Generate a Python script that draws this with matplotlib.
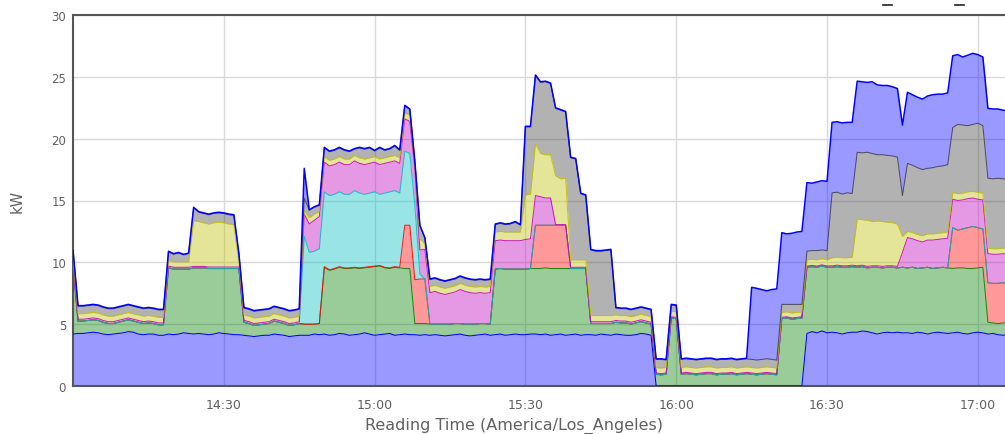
import matplotlib
matplotlib.use("Agg")
import matplotlib.pyplot as plt
import numpy as np
from matplotlib.lines import Line2D

# one reading per minute, minutes after 14:00
minutes = np.arange(187)

tick_minutes = [30, 60, 90, 120, 150, 180]
tick_labels = ["14:30", "15:00", "15:30", "16:00", "16:30", "17:00"]
y_ticks = [0, 5, 10, 15, 20, 25, 30]

# kW per circuit (stack order bottom -> top)
base_load = [
    4.2,
    4.25, 4.25, 4.3, 4.35, 4.3, 4.2, 4.15, 4.2, 4.25, 4.3, 4.4, 4.35, 4.2, 4.15, 4.2, 4.2, 4.1, 4.1,
    4.2, 4.15, 4.2, 4.3, 4.25,
    4.2, 4.25, 4.2, 4.15, 4.2, 4.3, 4.25, 4.2, 4.15,
    4.15,
    4.1, 4.05, 4.0, 4.05, 4.1, 4.1, 4.2, 4.15, 4.1, 4.0, 4.05, 4.1,
    4.1, 4.1, 4.2, 4.15,
    4.2, 4.1, 4.15, 4.25, 4.2, 4.1, 4.15, 4.2, 4.3, 4.2, 4.1, 4.15, 4.2, 4.25, 4.1, 4.15,
    4.2, 4.15,
    4.15, 4.1, 4.15,
    4.1, 4.15, 4.1, 4.05, 4.1, 4.15, 4.2, 4.1, 4.05, 4.1, 4.15, 4.2, 4.1,
    4.15, 4.2, 4.1, 4.15, 4.2, 4.15,
    4.15, 4.2,
    4.2, 4.15, 4.2, 4.1,
    4.15, 4.2, 4.1,
    4.15, 4.2,
    4.1, 4.15,
    4.15, 4.1, 4.2, 4.15, 4.1,
    4.2, 4.15, 4.1, 4.1, 4.15, 4.25, 4.2, 4.1,
    0, 0, 0, 0, 0, 0, 0, 0, 0, 0,
    0, 0, 0, 0, 0, 0, 0, 0, 0, 0,
    0, 0, 0, 0, 0, 0, 0, 0, 0, 0,
    4.25, 4.4, 4.3, 4.45, 4.3,
    4.35, 4.3, 4.2, 4.3, 4.35,
    4.35, 4.45, 4.4, 4.3, 4.2, 4.3, 4.35, 4.3, 4.35,
    4.3,
    4.3, 4.25, 4.35, 4.3, 4.2, 4.3, 4.35, 4.3, 4.25,
    4.3, 4.35, 4.25, 4.2, 4.3, 4.35, 4.3,
    4.2, 4.25, 4.15, 4.1, 4.2,
]

green = [
    5.5,
    1.0, 1.0, 1.0, 1.0, 1.0, 0.95, 0.9, 0.85, 0.9, 0.95, 0.95, 0.9, 0.95, 0.9, 0.9, 0.85, 0.85, 0.85,
    5.35, 5.3, 5.25, 5.15, 5.2,
    5.35, 5.3, 5.35, 5.35, 5.3, 5.2, 5.25, 5.3, 5.35,
    5.35,
    1.05, 1.0, 0.9, 0.9, 0.9, 0.95, 1.05, 1.0, 0.95, 0.9, 0.9, 0.95,
    0.9, 0.9, 0.8, 0.9,
    5.4, 5.25, 5.3, 5.35, 5.3, 5.4, 5.4, 5.3, 5.25, 5.4, 5.55, 5.55, 5.35, 5.25, 5.5, 5.4,
    5.3, 5.35,
    0.9, 0.95, 0.9,
    0.9, 0.85, 0.9, 0.95, 0.9, 0.9, 0.85, 0.9, 0.95, 0.9, 0.9, 0.85, 0.9,
    5.3, 5.3, 5.35, 5.3, 5.25, 5.3,
    5.3, 5.3,
    5.3, 5.35, 5.35, 5.4,
    5.35, 5.3, 5.4,
    5.35, 5.3,
    5.4, 5.35,
    0.9, 0.95, 0.85, 0.9, 0.95,
    0.95, 0.95, 1.0, 0.9, 0.95, 0.95, 0.9, 0.9,
    0.95, 0.9, 0.95,
    5.5, 5.45,
    0.95, 1.0, 0.95, 0.9, 0.95, 1.0, 1.0, 0.9, 0.95, 0.95, 1.0, 0.9, 0.95, 1.0,
    0.95, 0.9, 0.95, 1.0, 0.95, 0.9,
    5.45, 5.5, 5.4, 5.45, 5.5,
    5.35, 5.25, 5.3, 5.25, 5.3,
    5.25, 5.35, 5.4, 5.3, 5.3,
    5.25, 5.2, 5.15, 5.3, 5.4, 5.25, 5.25, 5.3, 5.2,
    5.3,
    5.25, 5.35, 5.15, 5.25, 5.4, 5.2, 5.2, 5.3, 5.3,
    5.2, 5.2, 5.3, 5.3, 5.2, 5.2, 5.3,
    0.95, 0.85, 0.9, 1.0, 0.95,
]

red = [
    0, 0, 0, 0, 0, 0, 0, 0, 0, 0,
    0, 0, 0, 0, 0, 0, 0, 0, 0, 0,
    0, 0, 0, 0, 0, 0, 0, 0, 0, 0,
    0, 0, 0, 0, 0, 0, 0, 0, 0, 0,
    0, 0, 0, 0, 0, 0, 0, 0, 0, 0,
    0.05, 0.05, 0.05, 0.05, 0.05, 0.05, 0.05, 0.05, 0.05, 0.05, 0.05, 0.05, 0.05, 0.05, 0.05, 0.05,
    3.5, 3.5,
    3.55, 3.6, 3.6,
    0, 0, 0, 0, 0, 0, 0, 0, 0, 0,
    0, 0, 0, 0, 0, 0, 0, 0, 0, 0, 0,
    3.5, 3.5, 3.45, 3.5,
    3.5, 3.5, 3.5,
    0, 0, 0, 0, 0, 0, 0, 0, 0, 0,
    0, 0, 0, 0, 0, 0, 0, 0, 0, 0,
    0, 0, 0, 0, 0, 0, 0, 0, 0, 0,
    0, 0, 0, 0, 0, 0, 0, 0, 0, 0,
    0, 0, 0, 0, 0, 0, 0, 0, 0, 0,
    0, 0, 0, 0, 0, 0, 0, 0, 0, 0,
    0, 0, 0, 0, 0, 0, 0, 0, 0, 0,
    0, 0, 0, 0, 0, 0,
    3.3, 3.05, 3.15, 3.3, 3.4, 3.25, 3.1,
    3.2, 3.2, 3.25, 3.25, 3.15,
]

cyan = [
    0, 0, 0, 0, 0, 0, 0, 0, 0, 0,
    0, 0, 0, 0, 0, 0, 0, 0, 0, 0,
    0, 0, 0, 0, 0, 0, 0, 0, 0, 0,
    0, 0, 0, 0, 0, 0, 0, 0, 0, 0,
    0, 0, 0, 0, 0, 0,
    7.1, 5.8, 5.9, 6.05,
    6.05, 6.0, 6.0, 6.05, 5.95, 5.95, 6.2, 6.05, 5.9, 5.95, 6.0, 5.75, 6.0, 6.15, 6.15, 6.0,
    6.0, 5.8,
    6.0, 0.4, 0.0,
    0, 0, 0, 0, 0, 0, 0, 0, 0, 0,
    0, 0, 0, 0, 0, 0, 0, 0, 0, 0,
    0, 0, 0, 0, 0, 0, 0, 0, 0, 0,
    0, 0, 0, 0, 0, 0, 0, 0, 0, 0,
    0, 0, 0, 0, 0, 0, 0, 0, 0, 0,
    0, 0, 0, 0, 0, 0, 0, 0, 0, 0,
    0, 0, 0, 0, 0, 0, 0, 0, 0, 0,
    0, 0, 0, 0, 0, 0, 0, 0, 0, 0,
    0, 0, 0, 0, 0, 0, 0, 0, 0, 0,
    0, 0, 0, 0, 0, 0, 0, 0, 0, 0,
    0, 0, 0, 0, 0, 0, 0, 0, 0, 0,
    0, 0, 0, 0, 0, 0,
]

pink = [
    0.2,
    0.15, 0.15, 0.15, 0.15, 0.15, 0.15, 0.15, 0.15, 0.15, 0.15, 0.15, 0.15, 0.15, 0.15, 0.15, 0.15, 0.15, 0.15,
    0.15, 0.15, 0.15, 0.15, 0.15,
    0.12, 0.12, 0.12, 0.12, 0.12, 0.12, 0.12, 0.12, 0.12,
    0.12,
    0.15, 0.15, 0.15, 0.15, 0.15, 0.15, 0.15, 0.15, 0.15, 0.15, 0.15, 0.15,
    1.8, 2.3, 2.5, 2.6,
    2.4, 2.4, 2.4, 2.4, 2.4, 2.4, 2.4, 2.4, 2.4, 2.4, 2.4, 2.4, 2.4, 2.4, 2.4, 2.4,
    2.6, 2.6,
    3.0, 1.95, 2.4,
    2.55, 2.65, 2.5, 2.4, 2.5, 2.55, 2.75, 2.65, 2.55, 2.5, 2.5, 2.45, 2.55,
    2.3, 2.3, 2.3, 2.3, 2.3, 2.3,
    2.4, 2.4,
    2.4, 2.3, 2.2, 2.2,
    0.05, 0.05, 0.05,
    0.1, 0.1,
    0.1, 0.1,
    0.15, 0.15, 0.15, 0.15, 0.15,
    0.15, 0.15, 0.15, 0.15, 0.15, 0.15, 0.15, 0.15,
    0.1, 0.1, 0.1,
    0.1, 0.1,
    0.1, 0.1, 0.1, 0.1, 0.1, 0.1, 0.1, 0.1, 0.1, 0.1, 0.1, 0.1, 0.1, 0.1,
    0.1, 0.1, 0.1, 0.1, 0.1, 0.1,
    0.1, 0.1, 0.1, 0.1, 0.1,
    0.1, 0.1, 0.1, 0.1, 0.1,
    0.12, 0.12, 0.12, 0.12, 0.12,
    0.12, 0.12, 0.12, 0.12, 0.12, 0.12, 0.12, 0.12, 0.12,
    1.2,
    2.45, 2.3, 2.25, 2.1, 2.2, 2.3, 2.3, 2.3, 2.4,
    2.3, 2.4, 2.35, 2.35, 2.3, 2.3, 2.35,
    2.35, 2.35, 2.35, 2.35, 2.35,
]

yellow = [
    0.35,
    0.45, 0.45, 0.45, 0.45, 0.45, 0.45, 0.45, 0.45, 0.45, 0.45, 0.45, 0.45, 0.45, 0.45, 0.45, 0.45, 0.45, 0.45,
    0.45, 0.45, 0.45, 0.45, 0.45,
    3.68, 3.63, 3.53, 3.48, 3.58, 3.63, 3.58, 3.48, 3.43,
    0.4,
    0.45, 0.45, 0.45, 0.45, 0.45, 0.45, 0.45, 0.45, 0.45, 0.45, 0.45, 0.45,
    0.3, 0.5, 0.5, 0.4,
    0.45, 0.45, 0.45, 0.45, 0.45, 0.45, 0.45, 0.45, 0.45, 0.45, 0.45, 0.45, 0.45, 0.45, 0.45, 0.45,
    0.5, 0.5,
    0.3, 0.9, 0.45,
    0.5, 0.5, 0.5, 0.5, 0.5, 0.5, 0.5, 0.5, 0.5, 0.5, 0.5, 0.5, 0.5,
    0.7, 0.7, 0.7, 0.7, 0.7, 0.7,
    3.6, 3.6,
    4.2, 3.5, 3.5, 3.5,
    3.95, 3.7, 3.75,
    0.6, 0.6,
    0.6, 0.6,
    0.5, 0.5, 0.5, 0.5, 0.5,
    0.45, 0.45, 0.45, 0.45, 0.45, 0.45, 0.45, 0.45,
    0.45, 0.45, 0.45,
    0.45, 0.45,
    0.45, 0.45, 0.45, 0.45, 0.45, 0.45, 0.45, 0.45, 0.45, 0.45, 0.45, 0.45, 0.45, 0.45,
    0.45, 0.45, 0.45, 0.45, 0.45, 0.45,
    0.4, 0.4, 0.4, 0.4, 0.4,
    0.5, 0.5, 0.5, 0.5, 0.5,
    0.65, 0.65, 0.65, 0.65, 0.65,
    3.78, 3.68, 3.73, 3.58, 3.63, 3.63, 3.53, 3.48, 3.43,
    1.3,
    0.5, 0.5, 0.5, 0.5, 0.5, 0.5, 0.5, 0.5, 0.5,
    0.55, 0.55, 0.55, 0.55, 0.55, 0.55, 0.55,
    0.45, 0.45, 0.45, 0.45, 0.45,
]

gray = [
    0.7,
    0.6, 0.6, 0.6, 0.6, 0.6, 0.6, 0.6, 0.6, 0.6, 0.6, 0.6, 0.6, 0.6, 0.6, 0.6, 0.6, 0.6, 0.6,
    0.7, 0.6, 0.7, 0.55, 0.65,
    1.05, 0.75, 0.75, 0.75, 0.75, 0.75, 0.75, 0.75, 0.75,
    0.65,
    0.55, 0.55, 0.55, 0.55, 0.55, 0.55, 0.55, 0.55, 0.55, 0.55, 0.55, 0.55,
    1.0, 0.6, 0.55, 0.5,
    0.7, 0.7, 0.7, 0.7, 0.7, 0.6, 0.5, 0.8, 0.8, 0.8, 0.45, 0.9, 0.6, 0.6, 0.75, 0.6,
    0.55, 0.45,
    0.25, 1.05, 0.45,
    0.55, 0.55, 0.55, 0.55, 0.55, 0.55, 0.55, 0.55, 0.55, 0.55, 0.55, 0.55, 0.55,
    0.6, 0.65, 0.6, 0.65, 0.8, 0.55,
    5.5, 5.45,
    5.5, 5.75, 5.9, 5.75,
    5.45, 5.55, 5.35,
    8.25, 8.15,
    5.35, 5.2,
    5.3, 5.2, 5.2, 5.25, 5.3,
    0.55, 0.55, 0.55, 0.55, 0.55, 0.55, 0.55, 0.55,
    0.65, 0.7, 0.6,
    0.5, 0.5,
    0.65, 0.65, 0.65, 0.65, 0.65, 0.65, 0.65, 0.65, 0.65, 0.65, 0.65, 0.65, 0.65, 0.65,
    0.65, 0.65, 0.65, 0.65, 0.65, 0.65,
    0.65, 0.6, 0.7, 0.65, 0.6,
    0.7, 0.7, 0.75, 0.7, 0.75,
    5.25, 5.25, 5.15, 5.25, 5.15,
    5.4, 5.4, 5.5, 5.5, 5.35, 5.4, 5.4, 5.4, 5.4,
    3.3,
    5.5, 5.45, 5.4, 5.35, 5.3, 5.35, 5.4, 5.4, 5.45,
    5.25, 5.6, 5.5, 5.35, 5.4, 5.6, 5.45,
    5.65, 5.65, 5.7, 5.6, 5.6,
]

top_load = [
    0.05,
    0.05, 0.05, 0.05, 0.05, 0.05, 0.05, 0.05, 0.05, 0.05, 0.05, 0.05, 0.05, 0.05, 0.05, 0.05, 0.05, 0.05, 0.05,
    0.05, 0.05, 0.05, 0.05, 0.05,
    0.05, 0.05, 0.05, 0.05, 0.05, 0.05, 0.05, 0.05, 0.05,
    0.05,
    0.05, 0.05, 0.05, 0.05, 0.05, 0.05, 0.05, 0.05, 0.05, 0.05, 0.05, 0.05,
    2.4, 0.05, 0.05, 0.05,
    0.05, 0.05, 0.05, 0.05, 0.05, 0.05, 0.05, 0.05, 0.05, 0.05, 0.05, 0.05, 0.05, 0.05, 0.05, 0.05,
    0.05, 0.05,
    0.05, 0.05, 0.05,
    0.05, 0.05, 0.05, 0.05, 0.05, 0.05, 0.05, 0.05, 0.05, 0.05, 0.05, 0.05, 0.05,
    0.05, 0.05, 0.05, 0.05, 0.05, 0.05,
    0.05, 0.05,
    0.05, 0.05, 0.05, 0.05,
    0.05, 0.05, 0.05,
    0.05, 0.05,
    0.05, 0.05,
    0.05, 0.05, 0.05, 0.05, 0.05,
    0.05, 0.05, 0.05, 0.05, 0.05, 0.05, 0.05, 0.05,
    0.05, 0.05, 0.05,
    0.05, 0.05,
    0.05, 0.05, 0.05, 0.05, 0.05, 0.05, 0.05, 0.05, 0.05, 0.05, 0.05, 0.05, 0.05, 0.05,
    5.83, 5.8, 5.65, 5.5, 5.65, 5.75,
    5.8, 5.7, 5.75, 5.85, 5.9,
    5.55, 5.45, 5.55, 5.6, 5.6,
    5.7, 5.7, 5.75, 5.7, 5.75,
    5.75, 5.75, 5.65, 5.8, 5.65, 5.6, 5.65, 5.6, 5.55,
    5.7,
    5.75, 5.7, 5.7, 5.7, 5.85, 5.9, 5.85, 5.8, 5.8,
    5.8, 5.65, 5.5, 5.7, 5.75, 5.55, 5.55,
    5.65, 5.65, 5.6, 5.55, 5.55,
]

series = [base_load, green, red, cyan, pink, yellow, gray, top_load]
colors = ["#0000ff", "#008000", "#ff0000", "#00c0c0", "#c000c0", "#c0c000", "#404040", "#0000ff"]
for s in series:
    assert len(s) == len(minutes), len(s)

stack = np.cumsum(np.vstack(series), axis=0)

fig = plt.figure(figsize=(10.05, 4.35), dpi=100)
ax = fig.add_axes([73 / 1005, 48 / 435, 932 / 1005, 371 / 435])

ax.set_axisbelow(True)
ax.grid(True, color="#d9d9d9", lw=1.0, zorder=0)

lower = np.zeros(len(minutes))
for i, c in enumerate(colors):
    ax.fill_between(minutes, lower, stack[i], color=c, alpha=0.4, lw=0, zorder=2)
    lower = stack[i]
for i, c in enumerate(colors):
    ax.plot(minutes, stack[i], color=c, lw=1.1 if i == len(colors) - 1 else 0.75,
            alpha=1.0 if i in (0, len(colors) - 1) else 0.85, zorder=3)

ax.set_xlim(0, 185.4)
ax.set_ylim(0, 30)
ax.set_xticks(tick_minutes)
ax.set_xticklabels(tick_labels)
ax.set_yticks(y_ticks)
ax.tick_params(axis="both", length=0, colors="#606060")
ax.tick_params(axis="x", pad=9, labelsize=9)
ax.tick_params(axis="y", pad=5, labelsize=8.5)

for side in ["left", "bottom", "top"]:
    ax.spines[side].set_color("#555555")
    ax.spines[side].set_linewidth(1.5)
ax.spines["right"].set_visible(False)

fig.text(17 / 1005, 1 - 201 / 435, "kW", rotation=90, ha="center", va="center",
         fontsize=10.5, color="#606060")
fig.text(513.5 / 1005, 1 - 426 / 435, "Reading Time (America/Los_Angeles)", ha="center",
         va="center", fontsize=11.5, color="#606060")

# clipped legend remnants at top right
fig.add_artist(Line2D([883 / 1005, 892 / 1005], [429 / 435, 429 / 435], color="#222222", lw=1.2))
fig.add_artist(Line2D([955 / 1005, 964 / 1005], [429 / 435, 429 / 435], color="#222222", lw=1.2))

fig.savefig("out.png", dpi=100)
